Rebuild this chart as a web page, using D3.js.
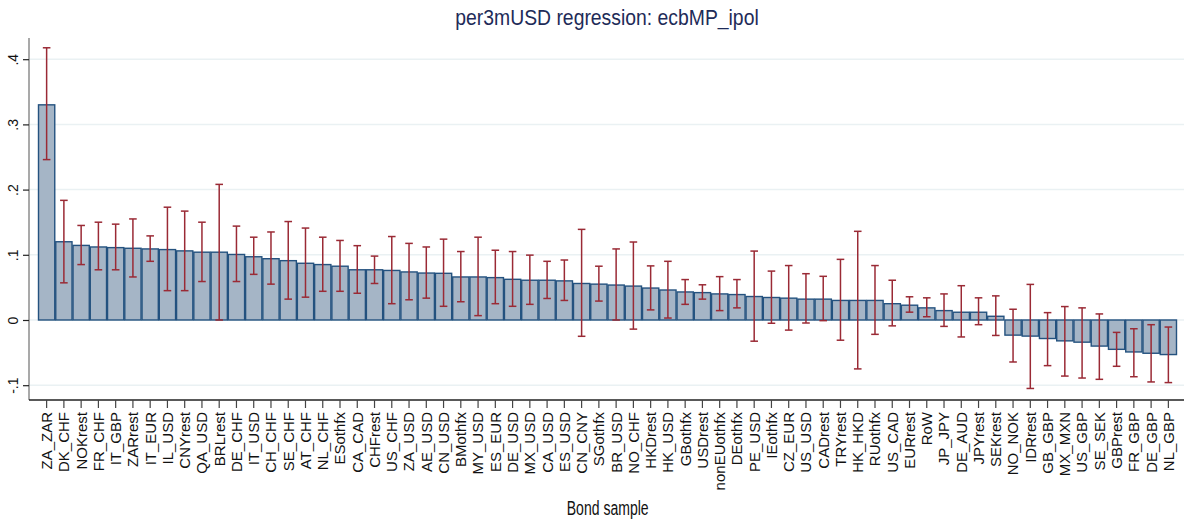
<!DOCTYPE html>
<html>
<head>
<meta charset="utf-8">
<script src="https://cdn.jsdelivr.net/npm/d3@7"></script>
<style>
  html, body { margin: 0; padding: 0; background: #fff; }
  svg { display: block; font-family: "Liberation Sans", Arial, sans-serif; }
</style>
</head>
<body>
<svg id="chart" width="1184" height="525"></svg>
<script>
const categories = ["ZA_ZAR","DK_CHF","NOKrest","FR_CHF","IT_GBP","ZARrest","IT_EUR","IL_USD","CNYrest","QA_USD","BRLrest","DE_CHF","IT_USD","CH_CHF","SE_CHF","AT_CHF","NL_CHF","ESothfx","CA_CAD","CHFrest","US_CHF","ZA_USD","AE_USD","CN_USD","BMothfx","MY_USD","ES_EUR","DE_USD","MX_USD","CA_USD","ES_USD","CN_CNY","SGothfx","BR_USD","NO_CHF","HKDrest","HK_USD","GBothfx","USDrest","nonEUothfx","DEothfx","PE_USD","IEothfx","CZ_EUR","US_USD","CADrest","TRYrest","HK_HKD","RUothfx","US_CAD","EURrest","RoW","JP_JPY","DE_AUD","JPYrest","SEKrest","NO_NOK","IDRrest","GB_GBP","MX_MXN","US_GBP","SE_SEK","GBPrest","FR_GBP","DE_GBP","NL_GBP"];

const coef = [0.330,0.120,0.1144,0.112,0.111,0.110,0.109,0.108,0.106,0.104,0.104,0.1005,0.097,0.094,0.091,0.087,0.085,0.0825,0.077,0.077,0.076,0.0737,0.072,0.0716,0.066,0.066,0.065,0.0624,0.061,0.061,0.060,0.056,0.055,0.0536,0.052,0.049,0.046,0.043,0.042,0.040,0.039,0.036,0.0345,0.0335,0.032,0.032,0.030,0.030,0.030,0.025,0.0227,0.0186,0.0144,0.0119,0.0119,0.0057,-0.0232,-0.0247,-0.0284,-0.032,-0.034,-0.040,-0.045,-0.049,-0.051,-0.053];

const ciHigh = [0.4175,0.1835,0.145,0.150,0.147,0.155,0.129,0.173,0.167,0.150,0.208,0.144,0.127,0.135,0.151,0.141,0.127,0.122,0.114,0.098,0.128,0.1175,0.112,0.124,0.105,0.127,0.107,0.105,0.0995,0.090,0.092,0.139,0.0825,0.109,0.1196,0.083,0.090,0.062,0.054,0.0665,0.062,0.1057,0.075,0.0835,0.071,0.067,0.093,0.136,0.0835,0.061,0.0356,0.034,0.040,0.0526,0.034,0.037,0.0165,0.0546,0.0113,0.0206,0.0186,0.0093,-0.019,-0.0134,-0.0072,-0.0108];

const ciLow = [0.246,0.057,0.085,0.077,0.077,0.066,0.090,0.045,0.045,0.059,0.000,0.059,0.070,0.055,0.032,0.035,0.044,0.044,0.041,0.056,0.025,0.031,0.0335,0.021,0.028,0.0067,0.025,0.021,0.024,0.033,0.030,-0.025,0.029,0.000,-0.014,0.0155,0.003,0.024,0.032,0.0144,0.0186,-0.0325,-0.005,-0.0155,-0.0046,-0.001,-0.031,-0.075,-0.022,-0.009,0.012,0.005,-0.0098,-0.026,-0.0072,-0.0237,-0.0644,-0.105,-0.070,-0.086,-0.089,-0.091,-0.071,-0.087,-0.095,-0.096];

const yTicks = [-0.1, 0, 0.1, 0.2, 0.3, 0.4];
const yTickLabels = ["-.1", "0", ".1", ".2", ".3", ".4"];
const titleText = "per3mUSD regression: ecbMP_ipol";
const xTitleText = "Bond sample";

const data = categories.map((c, i) => ({ cat: c, b: coef[i], lo: ciLow[i], hi: ciHigh[i] }));

const svg = d3.select("#chart");
const axisX = 29, plotRight = 1184, plotTop = 38, plotBottom = 400;

const x = d3.scaleBand().domain(categories).range([38, 1177]).padding(0);
const y = d3.scaleLinear().domain([-0.1227, 0.4325]).range([plotBottom, plotTop]);

// gridlines
svg.append("g").selectAll("line").data(yTicks).join("line")
  .attr("x1", axisX).attr("x2", plotRight)
  .attr("y1", d => y(d)).attr("y2", d => y(d))
  .attr("stroke", "#eaf1f3").attr("stroke-width", 1.5);

// bars
svg.append("g").selectAll("rect").data(data).join("rect")
  .attr("x", d => x(d.cat) + 0.5)
  .attr("width", x.bandwidth() - 1)
  .attr("y", d => y(Math.max(0, d.b)))
  .attr("height", d => Math.abs(y(d.b) - y(0)))
  .attr("fill", "#a5b5c6")
  .attr("stroke", "#24527f")
  .attr("stroke-width", 1.4);

// error bars
const eg = svg.append("g").attr("stroke", "#9a2a35").attr("stroke-width", 1.5);
const cx = d => x(d.cat) + x.bandwidth() / 2;
eg.selectAll("line.v").data(data).join("line").attr("class", "v")
  .attr("x1", cx).attr("x2", cx)
  .attr("y1", d => y(d.hi)).attr("y2", d => y(d.lo));
eg.selectAll("line.h").data(data).join("line").attr("class", "h")
  .attr("x1", d => cx(d) - 3.8).attr("x2", d => cx(d) + 3.8)
  .attr("y1", d => y(d.hi)).attr("y2", d => y(d.hi));
eg.selectAll("line.l").data(data).join("line").attr("class", "l")
  .attr("x1", d => cx(d) - 3.8).attr("x2", d => cx(d) + 3.8)
  .attr("y1", d => y(d.lo)).attr("y2", d => y(d.lo));

// y axis
const yAxis = d3.axisLeft(y).tickValues(yTicks).tickSize(6)
  .tickFormat((d, i) => yTickLabels[i]);
const yg = svg.append("g").attr("transform", `translate(${axisX},0)`).call(yAxis);
yg.select(".domain").attr("stroke", "#8c8c8c").attr("stroke-width", 1.5)
  .attr("d", `M0,${plotTop}V${plotBottom}`);
yg.selectAll(".tick line").attr("stroke", "#222").attr("stroke-width", 1.2);
yg.selectAll(".tick text")
  .attr("x", null).attr("dy", null)
  .attr("transform", "translate(-11.5,0) rotate(-90)")
  .attr("text-anchor", "middle")
  .attr("font-size", 14).attr("fill", "#111")
  .attr("font-family", "Liberation Sans, Arial, sans-serif");

// x axis
const xAxis = d3.axisBottom(x).tickSize(8).tickSizeOuter(0);
const xg = svg.append("g").attr("transform", `translate(0,${plotBottom})`).call(xAxis);
xg.select(".domain").attr("stroke", "#222").attr("stroke-width", 1.5)
  .attr("d", `M${axisX},0H${plotRight}`);
xg.selectAll(".tick line").attr("stroke", "#444").attr("stroke-width", 1.2);
xg.selectAll(".tick text")
  .attr("y", null).attr("dy", null)
  .attr("transform", "translate(0,12) rotate(-90)")
  .attr("dy", "0.36em")
  .attr("text-anchor", "end")
  .attr("font-size", 15).attr("fill", "#111")
  .attr("font-family", "Liberation Sans, Arial, sans-serif");

// title
svg.append("text")
  .attr("transform", "translate(607,25) scale(0.88,1)")
  .attr("text-anchor", "middle")
  .attr("font-size", 22)
  .attr("fill", "#1e2b58")
  .text(titleText);

// x axis title
svg.append("text")
  .attr("transform", "translate(607.7,515) scale(0.72,1)")
  .attr("text-anchor", "middle")
  .attr("font-size", 19.5)
  .attr("fill", "#111")
  .text(xTitleText);
</script>
</body>
</html>
